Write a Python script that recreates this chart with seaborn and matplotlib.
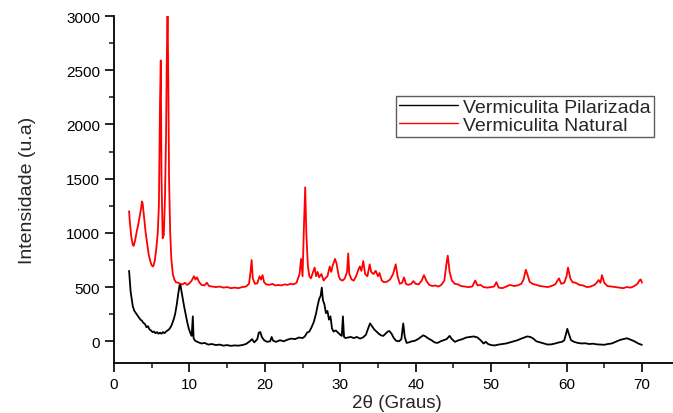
import pandas as pd
import matplotlib
matplotlib.use("Agg")
import matplotlib.pyplot as plt
from matplotlib.ticker import MultipleLocator
import seaborn as sns

sns.set_style("ticks")
plt.rcParams["font.family"] = ["Liberation Sans", "DejaVu Sans"]

# ---- Vermiculita Natural ----
natural_2theta = [
    2.0, 2.1, 2.3, 2.5, 2.6, 2.8, 3.0, 3.2, 3.4, 3.6,
    3.7, 3.8, 3.9, 4.0, 4.2, 4.4, 4.6, 4.8, 5.0, 5.2,
    5.4, 5.6, 5.8, 5.95, 6.1, 6.2, 6.3, 6.45, 6.6, 6.75,
    6.9, 7.0, 7.1, 7.2, 7.3, 7.45, 7.6, 7.8, 8.0, 8.2,
    8.5, 8.8, 9.1, 9.4, 9.7, 10.0, 10.3, 10.6, 10.8, 11.0,
    11.3, 11.6, 12.0, 12.3, 12.6, 13.0, 13.5, 14.0, 14.5, 15.0,
    15.5, 16.0, 16.5, 17.0, 17.5, 17.9, 18.1, 18.25, 18.4, 18.7,
    19.0, 19.3, 19.5, 19.7, 19.9, 20.2, 20.6, 21.0, 21.4, 21.8,
    22.2, 22.6, 23.0, 23.4, 23.8, 24.2, 24.6, 24.8, 25.0, 25.2,
    25.35, 25.5, 25.7, 25.9, 26.1, 26.4, 26.6, 26.8, 27.0, 27.2,
    27.5, 27.8, 28.0, 28.3, 28.6, 28.8, 29.0, 29.3, 29.5, 29.8,
    30.0, 30.3, 30.6, 30.9, 31.05, 31.2, 31.5, 31.8, 32.1, 32.4,
    32.6, 32.8, 33.05, 33.3, 33.6, 33.9, 34.1, 34.4, 34.7, 35.0,
    35.2, 35.5, 35.8, 36.2, 36.6, 37.0, 37.35, 37.6, 37.9, 38.2,
    38.45, 38.7, 39.0, 39.4, 39.7, 40.0, 40.4, 40.8, 41.1, 41.4,
    41.8, 42.2, 42.6, 43.0, 43.4, 43.8, 44.05, 44.25, 44.5, 44.8,
    45.2, 45.6, 46.0, 46.5, 47.0, 47.5, 47.9, 48.2, 48.6, 49.0,
    49.5, 50.0, 50.4, 50.7, 51.0, 51.5, 52.0, 52.5, 53.0, 53.5,
    54.0, 54.3, 54.6, 54.8, 55.1, 55.5, 56.0, 56.5, 57.0, 57.5,
    58.0, 58.5, 58.8, 59.0, 59.3, 59.7, 60.0, 60.2, 60.5, 60.8,
    61.2, 61.7, 62.2, 62.7, 63.2, 63.7, 64.0, 64.25, 64.5, 64.7,
    65.0, 65.4, 66.0, 66.5, 67.0, 67.5, 68.0, 68.5, 69.0, 69.4,
    69.7, 69.85, 70.0,
]
natural_int = [
    1200, 1100, 960, 890, 880, 930, 1010, 1070, 1150, 1230,
    1290, 1270, 1200, 1120, 1000, 900, 800, 740, 700, 690,
    740, 850, 1000, 1250, 2200, 2590, 1500, 950, 980, 1300,
    1900, 2600, 3050, 2400, 1500, 1000, 760, 620, 570, 545,
    540, 530, 525, 540, 520, 535, 560, 600, 570, 590,
    545, 520, 515, 540, 510, 505, 500, 505, 495, 500,
    490, 495, 490, 500, 505, 530, 640, 750, 580, 530,
    535, 600, 570, 610, 545, 525, 520, 530, 515, 520,
    515, 525, 520, 530, 525, 540, 620, 760, 600, 1100,
    1420, 1000, 700, 600, 580, 640, 680, 600, 640, 590,
    620, 560, 580, 600, 690, 640, 700, 760, 720, 600,
    570, 560, 580, 640, 810, 620, 570, 560, 600, 660,
    690, 650, 740, 620, 600, 710, 640, 620, 650, 600,
    630, 560, 545, 550, 570, 620, 710, 600, 530, 540,
    590, 530, 520, 530, 555, 530, 525, 560, 610, 560,
    520, 510, 515, 505, 520, 560, 700, 790, 640, 560,
    530, 525, 510, 505, 500, 505, 560, 515, 520, 500,
    495, 500, 505, 545, 495, 490, 505, 520, 510, 515,
    530, 570, 660, 620, 550, 530, 520, 510, 505, 500,
    510, 525, 560, 580, 530, 540, 600, 680, 580, 545,
    540, 520, 515, 500, 505, 520, 540, 565, 540, 610,
    540, 510, 505, 500, 495, 490, 500, 495, 510, 530,
    565, 570, 540,
]

# ---- Vermiculita Pilarizada ----
pilar_2theta = [
    2.0, 2.1, 2.2, 2.35, 2.5, 2.7, 2.9, 3.1, 3.3, 3.5,
    3.7, 3.9, 4.1, 4.3, 4.5, 4.7, 4.9, 5.1, 5.3, 5.5,
    5.7, 5.9, 6.1, 6.3, 6.5, 6.7, 6.9, 7.1, 7.3, 7.5,
    7.7, 7.9, 8.1, 8.3, 8.5, 8.7, 8.8, 8.9, 9.1, 9.3,
    9.5, 9.7, 9.9, 10.1, 10.3, 10.45, 10.55, 10.7, 10.9, 11.2,
    11.6, 12.0, 12.5, 13.0, 13.5, 14.0, 14.5, 15.0, 15.5, 16.0,
    16.5, 17.0, 17.5, 18.0, 18.3, 18.6, 19.0, 19.2, 19.4, 19.6,
    19.9, 20.3, 20.7, 20.9, 21.1, 21.5, 22.0, 22.5, 23.0, 23.5,
    24.0, 24.5, 25.0, 25.3, 25.6, 25.9, 26.2, 26.5, 26.8, 27.0,
    27.2, 27.4, 27.55, 27.7, 27.9, 28.1, 28.3, 28.5, 28.7, 28.9,
    29.1, 29.4, 29.7, 30.0, 30.2, 30.35, 30.5, 30.7, 31.0, 31.4,
    31.8, 32.2, 32.6, 33.0, 33.4, 33.7, 33.95, 34.2, 34.5, 34.8,
    35.1, 35.4, 35.7, 36.0, 36.3, 36.5, 36.8, 37.1, 37.4, 37.8,
    38.1, 38.35, 38.55, 38.8, 39.1, 39.5, 39.9, 40.3, 40.7, 41.0,
    41.3, 41.7, 42.1, 42.5, 42.9, 43.3, 43.7, 44.1, 44.5, 44.8,
    45.2, 45.7, 46.2, 46.7, 47.2, 47.7, 48.2, 48.6, 49.0, 49.3,
    49.6, 50.0, 50.5, 51.0, 51.5, 52.0, 52.5, 53.0, 53.5, 54.0,
    54.4, 54.8, 55.2, 55.6, 56.0, 56.5, 57.0, 57.5, 58.0, 58.5,
    59.0, 59.4, 59.7, 59.9, 60.1, 60.3, 60.6, 61.0, 61.5, 62.0,
    62.5, 63.0, 63.5, 64.0, 64.5, 65.0, 65.5, 66.0, 66.5, 67.0,
    67.5, 68.0, 68.5, 69.0, 69.5, 70.0,
]
pilar_int = [
    650, 560, 460, 390, 320, 280, 260, 240, 220, 200,
    190, 170, 160, 130, 140, 110, 100, 85, 90, 75,
    85, 70, 80, 70, 85, 75, 90, 100, 110, 130,
    160, 200, 250, 330, 430, 520, 530, 480, 400, 320,
    250, 180, 120, 80, 50, 230, 30, 10, 0, -10,
    -20, -15, -30, -25, -35, -30, -40, -35, -42, -38,
    -40, -35, -25, 0, 20, -10, 20, 80, 85, 40,
    10, -5, 0, 40, 5, -5, 10, 0, 15, 25,
    20, 35, 30, 45, 80, 90, 130, 180, 260, 330,
    390, 420, 495, 380, 340, 260, 280, 200, 230, 120,
    90, 100, 80, 60, 50, 230, 40, 30, 35, 40,
    30, 40, 25, 35, 60, 120, 165, 140, 110, 90,
    70, 55, 50, 70, 90, 95, 70, 30, 5, 0,
    20, 165, 40, -15, -10, 0, 5, 20, 40, 55,
    45, 25, 10, -10, -15, 0, 10, 20, 50, 20,
    -5, 10, 20, 35, 40, 45, 35, 10, -20, -5,
    -25, -35, -38, -30, -25, -20, -10, 0, 10, 25,
    35, 45, 40, 25, 0, -10, -20, -30, -28, -20,
    -10, -5, 10, 60, 115, 70, 10, -5, -15, -20,
    -18, -25, -22, -28, -30, -32, -25, -20, -5, 10,
    20, 28, 15, 0, -20, -33,
]

pilar_df = pd.DataFrame({"2theta": pilar_2theta, "intensidade": pilar_int})
natural_df = pd.DataFrame({"2theta": natural_2theta, "intensidade": natural_int})

fig = plt.figure(figsize=(6.73, 4.14), dpi=100)
ax = fig.add_axes([0.1694, 0.1208, 0.8405, 0.8381])

sns.lineplot(data=pilar_df, x="2theta", y="intensidade", color="black",
             lw=1.3, estimator=None, sort=False, ax=ax, label="Vermiculita Pilarizada")
sns.lineplot(data=natural_df, x="2theta", y="intensidade", color="red",
             lw=1.3, estimator=None, sort=False, ax=ax, label="Vermiculita Natural")

ax.set_xlim(0, 75)
ax.set_ylim(-200, 3000)
ax.xaxis.set_major_locator(MultipleLocator(10))
ax.xaxis.set_minor_locator(MultipleLocator(5))
ax.yaxis.set_major_locator(MultipleLocator(500))
ax.yaxis.set_minor_locator(MultipleLocator(250))
ax.tick_params(which="major", length=6.5, width=1.2, labelsize=11, direction="out", colors="black")
ax.tick_params(which="minor", length=3.6, width=1.2, direction="out")

sns.despine(ax=ax)
for side in ["left", "bottom"]:
    ax.spines[side].set_linewidth(1.3)
    ax.spines[side].set_color("black")

ax.set_xlabel("2θ (Graus)", fontsize=13.5, labelpad=2)
ax.set_ylabel("Intensidade (u.a)", fontsize=14, labelpad=22)

leg = ax.legend(loc="upper right", bbox_to_anchor=(0.9718, 0.7664),
                bbox_transform=fig.transFigure, fontsize=14, frameon=True,
                fancybox=False, handlelength=3.0, handletextpad=0.3,
                borderpad=0.15, labelspacing=0.0, borderaxespad=0)
leg.get_frame().set_edgecolor("#333333")
leg.get_frame().set_linewidth(1.0)
for line in leg.get_lines():
    line.set_linewidth(1.0)

fig.savefig("out.png", dpi=100)
